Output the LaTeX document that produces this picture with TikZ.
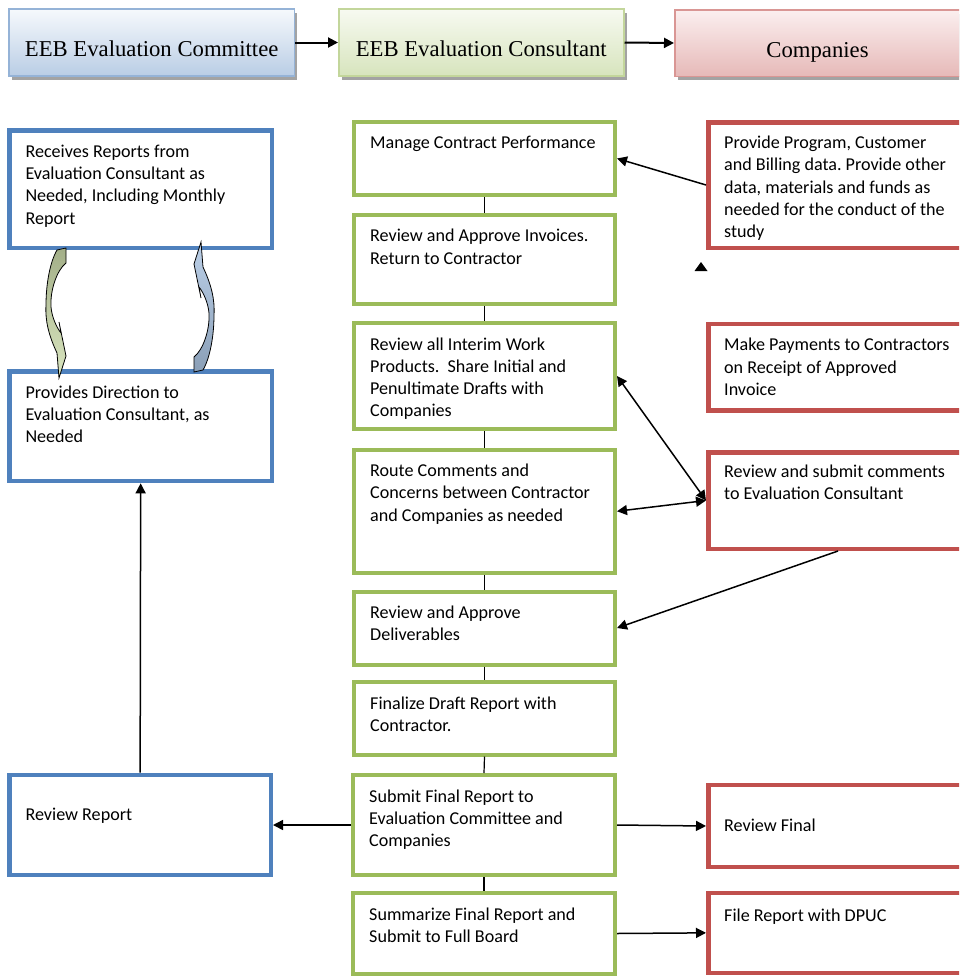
\documentclass[tikz,border=0pt]{standalone}
\usepackage{fontspec}
\setmainfont{Carlito}
\newfontfamily\hdfont{Liberation Serif}
\frenchspacing
\usetikzlibrary{arrows.meta,shadows}
\definecolor{gbord}{HTML}{9BBB59}
\definecolor{bbord}{HTML}{4F81BD}
\definecolor{rbord}{HTML}{C0504D}
\definecolor{hbA}{HTML}{95B3D7}
\definecolor{hbB}{HTML}{B9CDE5}
\definecolor{hbT}{HTML}{F6F9FC}
\definecolor{hgA}{HTML}{C3D69B}
\definecolor{hgB}{HTML}{D7E4BD}
\definecolor{hgT}{HTML}{F7FAF1}
\definecolor{hrA}{HTML}{D99694}
\definecolor{hrB}{HTML}{E6B9B8}
\definecolor{hrT}{HTML}{FBEFEF}
\definecolor{caGT}{HTML}{A3AF88}
\definecolor{caGB}{HTML}{DAE6C0}
\definecolor{caBT}{HTML}{BCD0E8}
\definecolor{caBB}{HTML}{8A9FB7}
\newcommand\mybox[7]{\node[#2, anchor=north west, inner sep=0pt, minimum width={#5-#3-#7}, minimum height={#6-#4-#7}] (#1) at (#3,#4) {};}
\newcommand\mytext[3]{\node[btxt] (#1t) at ([shift={(18,#2)}]#1.north west) {\parbox[t]{300pt}{\raggedright #3}};}
\begin{document}
\begin{tikzpicture}[x=1pt,y=-1pt,
  gbox/.style={draw=gbord, line width=4pt, fill=white},
  bbox/.style={draw=bbord, line width=4.5pt, fill=white},
  rbox/.style={draw=rbord, line width=4.5pt, fill=white},
  hbox/.style={line width=1.5pt, drop shadow={shadow xshift=3pt, shadow yshift=-4pt, fill=black!45, opacity=.8}},
  btxt/.style={anchor=base west, inner sep=0pt, font=\fontsize{18.1}{22.3}\selectfont},
  htxt/.style={anchor=base, inner sep=0pt, font=\hdfont\fontsize{22.7}{27}\selectfont},
  conn/.style={draw, line width=1.5pt, -{Triangle[length=10pt,width=10pt]}},
  hconn/.style={draw, line width=2pt, -{Triangle[length=10pt,width=10pt]}},
  dconn/.style={draw, line width=1.5pt, {Triangle[length=10pt,width=10pt]}-{Triangle[length=10pt,width=10pt]}},
  link/.style={draw, line width=1.2pt}]
\useasboundingbox (0,0) rectangle (959,977);
\clip (0,0) rectangle (959,977);

% header boxes
\mybox{h1}{hbox, draw=hbA, top color=hbT, bottom color=hbB}{8.3}{8.3}{295}{76.7}{1.5}
\mybox{h2}{hbox, draw=hgA, top color=hgT, bottom color=hgB}{338}{8.3}{624.5}{76.7}{1.5}
\mybox{h3}{hbox, draw=hrA, top color=hrT, bottom color=hrB}{674}{9}{961}{77}{1.5}
\node[htxt] (h1t) at ([shift={(0,14.2)}]h1.center) {EEB Evaluation Committee};
\node[htxt] (h2t) at ([shift={(0,14.2)}]h2.center) {EEB Evaluation Consultant};
\node[htxt] (h3t) at ([shift={(0,14.2)}]h3.center) {Companies};
\draw[hconn] (h1.east) -- (h2.west);
\draw[hconn] (h2.east) -- (h3.west);

% green column
\mybox{g1}{gbox}{352}{120}{617}{197}{4}
\mybox{g2}{gbox}{352}{212.7}{617}{306}{4}
\mybox{g3}{gbox}{352}{321}{617}{431}{4}
\mybox{g4}{gbox}{352}{447.5}{617}{575}{4}
\mybox{g5}{gbox}{352}{589.5}{617}{666.5}{4}
\mybox{g6}{gbox}{352}{680}{617}{756.5}{4}
\mybox{g7}{gbox}{351}{773}{617}{877}{4}
\mybox{g8}{gbox}{351}{891}{617}{976}{4}
\mytext{g1}{28.5}{Manage Contract Performance}
\mytext{g2}{29}{Review and Approve Invoices.\\Return to Contractor}
\mytext{g3}{29}{Review all Interim Work\\Products.\ \ Share Initial and\\Penultimate Drafts with\\Companies}
\mytext{g4}{29}{Route Comments and\\Concerns between Contractor\\and Companies as needed}
\mytext{g5}{29}{Review and Approve\\Deliverables}
\mytext{g6}{29}{Finalize Draft Report with\\Contractor.}
\mytext{g7}{29}{Submit Final Report to\\Evaluation Committee and\\Companies}
\mytext{g8}{29.3}{Summarize Final Report and\\Submit to Full Board}
\draw[link] (g1.south) -- (g2.north);
\draw[link] (g2.south) -- (g3.north);
\draw[link] (g3.south) -- (g4.north);
\draw[link] (g4.south) -- (g5.north);
\draw[link] (g5.south) -- (g6.north);
\draw[link] (g6.south) -- (g7.north);
\draw[link] (g7.south) -- (g8.north);

% blue column
\mybox{b1}{bbox}{7.3}{128.3}{274}{250}{4.5}
\mybox{b2}{bbox}{7.3}{369.3}{274}{483.3}{4.5}
\mybox{b3}{bbox}{7.3}{772.7}{273}{877.3}{4.5}
\mytext{b1}{29}{Receives Reports from\\Evaluation Consultant as\\Needed, Including Monthly\\Report}
\mytext{b2}{29}{Provides Direction to\\Evaluation Consultant, as\\Needed}
\mytext{b3}{47.5}{Review Report}

% red column
\mybox{r1}{rbox}{706}{120}{970}{250}{4.5}
\mybox{r2}{rbox}{706}{321.7}{970}{412.7}{4.5}
\mybox{r3}{rbox}{706}{450}{970}{551}{4.5}
\mybox{r4}{rbox}{706}{782.7}{970}{869.3}{4.5}
\mybox{r5}{rbox}{706}{890.7}{970}{975}{4.5}
\mytext{r1}{28.5}{Provide Program, Customer\\and Billing data. Provide other\\data, materials and funds as\\needed for the conduct of the\\study}
\mytext{r2}{29}{Make Payments to Contractors\\on Receipt of Approved\\Invoice}
\mytext{r3}{27.5}{Review and submit comments\\to Evaluation Consultant}
\mytext{r4}{48.5}{Review Final}
\mytext{r5}{30.5}{File Report with DPUC}

% connectors
\draw[conn] (r1.west) -- (g1.east);
\draw[dconn] (g3.east) -- (r3.west);
\draw[dconn] (g4.east) -- (r3.west);
\draw[conn] (r3.south) -- (g5.east);
\draw[conn] (g7.west) -- (b3.east);
\draw[conn] (g7.east) -- (r4.west);
\draw[conn] (g8.east) -- (r5.west);
\draw[conn] (b3.north) -- (b2.south);

% stray arrowhead
\fill (701,262) -- (707.5,271) -- (694.5,271) -- cycle;

% curved arrows
\shade[top color=caGT, bottom color=caGB, draw=black, line width=0.8pt]
  (57,250) -- (66,248) -- (66,263) .. controls (57,270) and (50,290) .. (51,307)
  .. controls (52,318) and (57,328) .. (61,333) -- (59,322) -- (66,356) -- (59,378)
  -- (57,353) .. controls (49,336) and (45,321) .. (46,305)
  .. controls (46,284) and (50,262) .. (57,250) -- cycle;
\shade[top color=caBT, bottom color=caBB, draw=black, line width=0.8pt]
  (203,370) -- (194,372) -- (194,357) .. controls (203,350) and (210,330) .. (209,313)
  .. controls (208,302) and (203,292) .. (199,287) -- (201,298) -- (194,264) -- (201,242)
  -- (203,267) .. controls (211,284) and (215,299) .. (214,315)
  .. controls (214,336) and (210,358) .. (203,370) -- cycle;
\end{tikzpicture}
\end{document}
